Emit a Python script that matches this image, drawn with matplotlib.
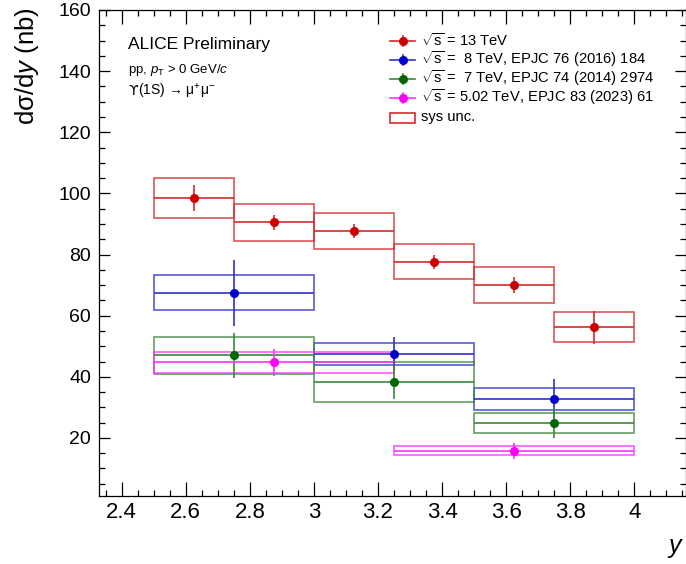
import matplotlib
matplotlib.use("Agg")
import matplotlib.pyplot as plt
from matplotlib.patches import Rectangle
from matplotlib.lines import Line2D
from matplotlib.ticker import MultipleLocator, FuncFormatter

plt.rcParams['font.family'] = ['Liberation Sans', 'DejaVu Sans']
plt.rcParams['mathtext.fontset'] = 'custom'
plt.rcParams['mathtext.rm'] = 'Liberation Sans'
plt.rcParams['mathtext.it'] = 'Liberation Sans:italic'
plt.rcParams['mathtext.bf'] = 'Liberation Sans:bold'
plt.rcParams['mathtext.sf'] = 'Liberation Sans'

# ---------------- data ----------------
# 13 TeV
y13_lo = [2.50, 2.75, 3.00, 3.25, 3.50, 3.75]
y13_hi = [2.75, 3.00, 3.25, 3.50, 3.75, 4.00]
v13 = [98.4, 90.5, 87.7, 77.6, 70.1, 56.2]
stat13 = [4.2, 2.5, 2.3, 2.3, 2.7, 5.4]
sys13 = [6.6, 6.1, 5.9, 5.7, 5.9, 4.9]
# 8 TeV
y8_lo = [2.5, 3.0, 3.5]
y8_hi = [3.0, 3.5, 4.0]
v8 = [67.5, 47.5, 32.8]
stat8 = [10.8, 5.4, 6.4]
sys8 = [5.8, 3.7, 3.6]
# 7 TeV
y7_lo = [2.5, 3.0, 3.5]
y7_hi = [3.0, 3.5, 4.0]
v7 = [47.0, 38.4, 24.9]
stat7 = [7.4, 5.8, 5.0]
sys7 = [6.0, 6.5, 3.3]
# 5.02 TeV
y5_lo = [2.5, 3.25]
y5_hi = [3.25, 4.0]
v5 = [44.8, 15.8]
stat5 = [4.4, 2.7]
sys5 = [3.4, 1.4]

series = [
    (r'$\sqrt{\mathrm{s}}$ = 13 TeV', '#cc0000', y13_lo, y13_hi, v13, stat13, sys13),
    (r'$\sqrt{\mathrm{s}}$ =  8 TeV, EPJC 76 (2016) 184', '#0000cc', y8_lo, y8_hi, v8, stat8, sys8),
    (r'$\sqrt{\mathrm{s}}$ =  7 TeV, EPJC 74 (2014) 2974', '#006600', y7_lo, y7_hi, v7, stat7, sys7),
    (r'$\sqrt{\mathrm{s}}$ = 5.02 TeV, EPJC 83 (2023) 61', '#ff00ff', y5_lo, y5_hi, v5, stat5, sys5),
]
box_colors = ['#d42a2a', '#3030d0', '#3a883a', '#ff30ff']
sys_label = 'sys unc.'

x_ticks = [2.4, 2.6, 2.8, 3.0, 3.2, 3.4, 3.6, 3.8, 4.0]
y_ticks = [20, 40, 60, 80, 100, 120, 140, 160]

W, H = 686, 564
fig = plt.figure(figsize=(W / 100, H / 100), dpi=100)
L, R, T, B = 99.3, 685.5, 10, 496
ax = fig.add_axes([L / W, 1 - B / H, (R - L) / W, (B - T) / H])

def fx(px):
    return px / W

def fy(py):
    return 1 - py / H

for (lab, col, lo, hi, v, st, sy), bc in zip(series, box_colors):
    for a, b, c, s in zip(lo, hi, v, sy):
        ax.add_patch(Rectangle((a, c - s), b - a, 2 * s, fill=False,
                               edgecolor=bc, lw=1.2, alpha=0.8, zorder=2))
    xc = [(a + b) / 2 for a, b in zip(lo, hi)]
    xe = [(b - a) / 2 for a, b in zip(lo, hi)]
    ax.errorbar(xc, v, yerr=st, xerr=xe, fmt='o', color=col, ecolor=bc,
                elinewidth=1.2, ms=5.5, capsize=0, zorder=3)

# legend drawn manually (ROOT style)
leg_y = [40.7, 59.5, 78.5, 97.5]
for (lab, col, *_), bc, yy in zip(series, box_colors, leg_y):
    fig.add_artist(Line2D([fx(390), fx(415)], [fy(yy), fy(yy)], color=bc, lw=1.2))
    fig.add_artist(Line2D([fx(402.5), fx(402.5)], [fy(yy - 5), fy(yy + 5)], color=bc, lw=1.2))
    fig.add_artist(Line2D([fx(402.5)], [fy(yy)], marker='o', ms=5.5, color=col, lw=0))
    fig.text(fx(421), fy(yy), lab, ha='left', va='center', fontsize=10.6)
fig.add_artist(Rectangle((fx(390), fy(123.3)), fx(415) - fx(390), fy(112.7) - fy(123.3),
                         fill=False, edgecolor='#d42a2a', lw=1.2, transform=fig.transFigure))
fig.text(fx(421), fy(116.7), sys_label, ha='left', va='center', fontsize=10.6)

ax.set_xlim(2.330, 4.160)
ax.set_ylim(1, 160)
ax.set_xticks(x_ticks)
ax.set_yticks(y_ticks)
ax.xaxis.set_minor_locator(MultipleLocator(0.05))
ax.yaxis.set_minor_locator(MultipleLocator(5))
ax.xaxis.set_major_formatter(FuncFormatter(lambda v, p: '%g' % round(v, 2)))
ax.tick_params(axis='both', which='both', direction='in', top=True, right=True,
               width=0.9, colors='black')
ax.tick_params(axis='x', which='major', length=10, pad=4, labelsize=16)
ax.tick_params(axis='x', which='minor', length=4.5)
ax.tick_params(axis='y', which='major', length=8, pad=6, labelsize=14)
ax.tick_params(axis='y', which='minor', length=4)
for sp in ax.spines.values():
    sp.set_linewidth(0.9)

fig.text(fx(27), fy(7), 'dσ/d$y$ (nb)', rotation=90, ha='center', va='top', fontsize=18.5)
fig.text(fx(684), fy(548), '$y$', ha='right', va='center', fontsize=18)

fig.text(fx(128), fy(44), 'ALICE Preliminary', ha='left', va='center', fontsize=12.5)
fig.text(fx(128), fy(70), r'pp, $p_{\mathrm{T}}$ > 0 GeV/$c$', ha='left', va='center', fontsize=9.5)
t_up = fig.text(fx(128), fy(91), 'ϒ', ha='left', va='center', fontsize=10,
                family=['DejaVu Sans'])
fig.canvas.draw()
ext = t_up.get_window_extent()
fig.text(ext.x1 / W, fy(91), '(1S) → μ$^{+}$μ$^{-}$', ha='left', va='center', fontsize=10)

fig.savefig('out.png', dpi=100)
